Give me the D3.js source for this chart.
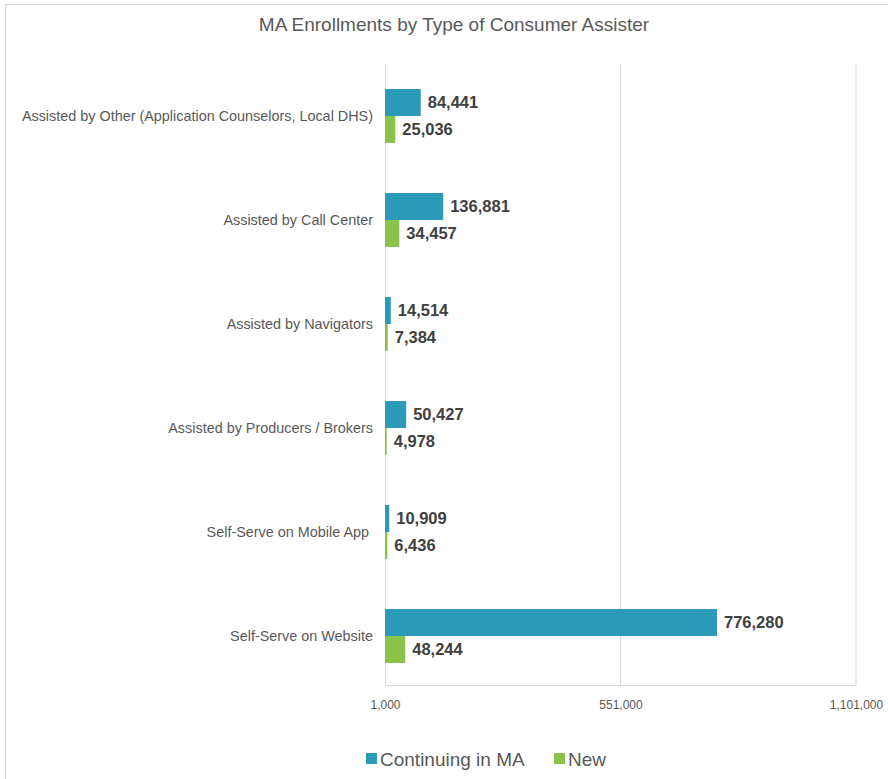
<!DOCTYPE html>
<html>
<head>
<script src="https://d3js.org/d3.v7.min.js"></script>
<style>
  body { margin:0; font-family:"Liberation Sans", Arial, sans-serif; background:#fff; }
  svg { display:block; }
</style>
</head>
<body>
<svg width="888" height="779"></svg>
<script>
// data
const categories = [
  'Assisted by Other (Application Counselors, Local DHS)',
  'Assisted by Call Center',
  'Assisted by Navigators',
  'Assisted by Producers / Brokers',
  'Self-Serve on Mobile App ',
  'Self-Serve on Website'
];
const continuing = [84441, 136881, 14514, 50427, 10909, 776280];
const newEnroll = [25036, 34457, 7384, 4978, 6436, 48244];
const seriesNames = ['Continuing in MA', 'New'];
const seriesColors = ['#2a9ab8', '#8bc34a'];
const xTicks = [1000, 551000, 1101000];

const svg = d3.select('svg');
const margin = { top:64, left:385 };
const innerW = 856 - margin.left;
const innerH = 685 - margin.top;

// chart border
svg.append('rect')
   .attr('x', 5.5).attr('y', 4.5)
   .attr('width', 900).attr('height', 900)
   .attr('fill', 'none').attr('stroke', '#d9d9d9');

svg.append('text')
   .attr('x', 454).attr('y', 31)
   .attr('text-anchor', 'middle')
   .style('font-size', '19px').style('fill', '#595959')
   .text('MA Enrollments by Type of Consumer Assister');

const g = svg.append('g').attr('transform', `translate(${margin.left},${margin.top})`);

const x = d3.scaleLinear().domain([1000, 1101000]).range([0, innerW]);
const y = d3.scaleBand().domain(categories).range([25, 599]).paddingInner(0.481).paddingOuter(0);
const ySub = d3.scaleBand().domain(seriesNames).range([0, y.bandwidth()]);

// gridlines
g.selectAll('.grid').data(xTicks.slice(1)).enter().append('line')
  .attr('x1', d => x(d)).attr('x2', d => x(d))
  .attr('y1', 0).attr('y2', innerH)
  .attr('stroke', '#d9d9d9');

// x axis
const xAxis = d3.axisBottom(x).tickValues(xTicks).tickSize(0).tickPadding(15).tickFormat(d3.format(','));
const xa = g.append('g').attr('transform', `translate(0,${innerH})`).call(xAxis);
xa.select('.domain').attr('stroke', '#d9d9d9');
xa.selectAll('text').style('font-size', '12px').style('fill', '#595959').style('font-family', '"Liberation Sans", Arial, sans-serif');

// y axis line
g.append('line').attr('x1', 0.5).attr('x2', 0.5).attr('y1', 0).attr('y2', innerH).attr('stroke', '#d9d9d9');

// category labels
const yAxis = d3.axisLeft(y).tickSize(0).tickPadding(12);
const ya = g.append('g').call(yAxis);
ya.select('.domain').remove();
ya.selectAll('text').style('font-size', '14.4px').style('fill', '#595959')
  .style('white-space', 'pre')
  .style('font-family', '"Liberation Sans", Arial, sans-serif');

const rows = categories.map((c, i) => ({ cat: c, vals: [continuing[i], newEnroll[i]] }));
const grp = g.selectAll('.row').data(rows).enter().append('g')
  .attr('transform', d => `translate(0,${y(d.cat)})`);

const bars = grp.selectAll('g.bar').data(d => d.vals.map((v, j) => ({ v, s: seriesNames[j], j })))
  .enter().append('g');
bars.append('rect')
  .attr('x', x(1000))
  .attr('y', d => ySub(d.s))
  .attr('width', d => Math.max(1, x(d.v) - x(1000)))
  .attr('height', ySub.bandwidth())
  .attr('fill', d => seriesColors[d.j]);
bars.append('text')
  .attr('x', d => Math.max(1, x(d.v)) + 7)
  .attr('y', d => ySub(d.s) + ySub.bandwidth() / 2)
  .attr('dy', '0.36em')
  .style('font-size', '16.5px').style('font-weight', 'bold').style('fill', '#404040')
  .text(d => d3.format(',')(d.v));

// legend
const legendX = [366, 554];
const lg = svg.selectAll('.legend').data(seriesNames).enter().append('g')
  .attr('transform', (d, i) => `translate(${legendX[i]},753)`);
lg.append('rect').attr('width', 11).attr('height', 11).attr('fill', (d, i) => seriesColors[i]);
lg.append('text').attr('x', 14).attr('y', 6).attr('dy', '0.36em')
  .style('font-size', '19px').style('fill', '#595959').text(d => d);
</script>
</body>
</html>
